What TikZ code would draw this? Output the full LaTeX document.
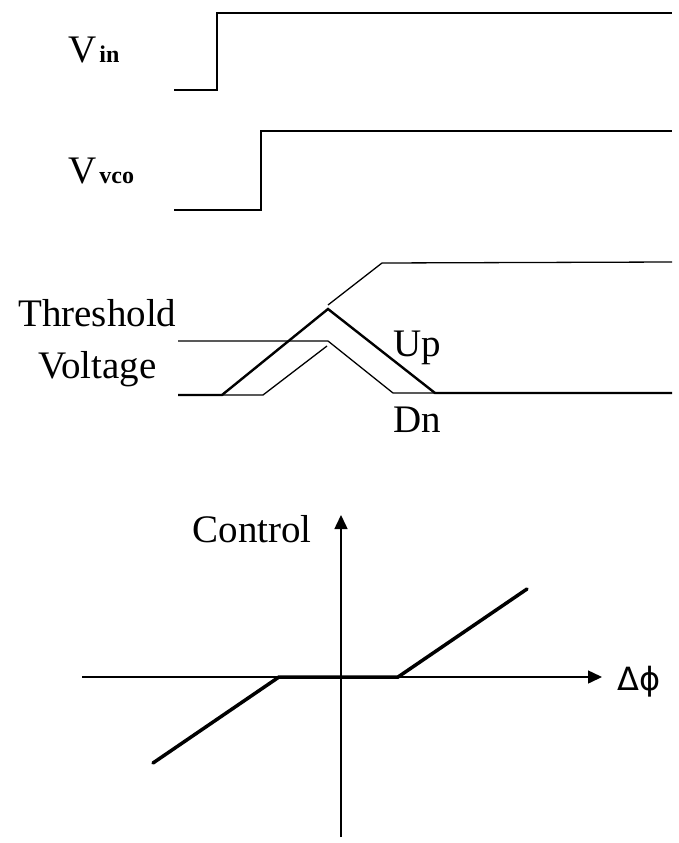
\documentclass[tikz,border=0pt]{standalone}
\usepackage{fontspec}
\setmainfont{Liberation Serif}
\newfontfamily\greekfont{DejaVu Sans}
\usetikzlibrary{arrows.meta}
\tikzset{
  wave/.style={line width=2pt},
  thinwave/.style={line width=1.3pt},
  upwave/.style={line width=2.4pt},
  axis/.style={line width=1.5pt, -{Triangle[length=14pt,width=13pt]}},
  transfer/.style={line width=3.5pt, line cap=round},
  lbl/.style={font=\fontsize{39}{41}\selectfont, inner sep=0pt, anchor=base west},
}
\newcommand{\sigsub}[1]{\kern3pt{\fontsize{24}{26}\selectfont\bfseries #1}}

\begin{document}
\begin{tikzpicture}[x=1pt, y=-1pt]
\useasboundingbox (0,0) rectangle (679,843);
% input and vco steps
\foreach \lo/\edge/\hi in {90/217/13, 210/261/131}
  \draw[wave] (174,\lo) -- (\edge,\lo) -- (\edge,\hi) -- (672,\hi);
\node[lbl] (vin) at (68,63) {V\sigsub{in}};
\node[lbl] (vvco) at (68,183) {V\sigsub{vco}};

% up / dn ramps against threshold
\draw[thinwave] (328,305) -- (382,263) -- (672,262);
\draw[upwave] (178,395) -- (222,395) -- (328,309) -- (435,393) -- (672,393);
\draw[thinwave] (222,395) -- (263,395) -- (327,346);
\draw[thinwave] (178,341) -- (328,341) -- (393,393) -- (435,393);
\node[lbl] (thr) at (18,326) {Threshold};
\node[lbl] (volt) at (38,378) {Voltage};
\node[lbl] (up) at (393,356) {Up};
\node[lbl] (dn) at (393,432) {Dn};

% transfer curve
\draw[axis] (82,677) -- (602,677);
\draw[axis] (341,837) -- (341,515);
\draw[transfer] (153,763) -- (279,677) -- (398,677) -- (527,589);
\node[lbl, anchor=base east] (ctrl) at (312,542) {Control};
\node[anchor=base west, inner sep=0pt, font=\greekfont\fontsize{32}{34}\selectfont] (dphi) at (617,690) {Δϕ};
\end{tikzpicture}
\end{document}
